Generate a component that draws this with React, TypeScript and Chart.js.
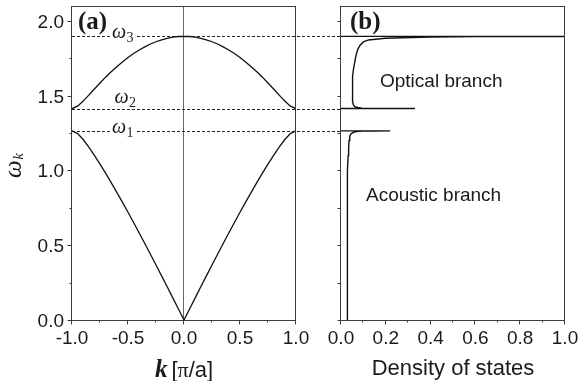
import React, { useEffect, useRef } from "react";
import { Chart, registerables } from "chart.js";

Chart.register(...registerables);

// Wave vector k in units of pi/a over half of the zone; both branches are even in k
const waveVector = [0, 0.05, 0.1, 0.15, 0.2, 0.25, 0.3, 0.35, 0.4, 0.45, 0.5, 0.55, 0.6, 0.65, 0.7, 0.75, 0.8, 0.85, 0.9, 0.95, 1];
const acousticOmega = [0, 0.074, 0.148, 0.222, 0.295, 0.368, 0.44, 0.512, 0.582, 0.652, 0.721, 0.788, 0.854, 0.919, 0.982, 1.043, 1.101, 1.156, 1.207, 1.247, 1.265];
const opticalOmega = [1.897, 1.896, 1.892, 1.884, 1.874, 1.861, 1.846, 1.827, 1.806, 1.782, 1.755, 1.726, 1.694, 1.66, 1.624, 1.585, 1.545, 1.504, 1.464, 1.43, 1.414];

// Band-edge frequencies omega_1, omega_2, omega_3
const bandEdgeOmega = [1.265, 1.414, 1.897];
const bandEdgeNames = ["1", "2", "3"];

// Density of states (horizontal) against frequency (vertical)
const acousticDosOmega = [0, 0.2, 0.4, 0.6, 0.8, 1.0, 1.1, 1.15, 1.2, 1.23, 1.245, 1.255, 1.26, 1.263, 1.2645, 1.265, 1.265];
const acousticDos = [0.027, 0.027, 0.028, 0.028, 0.029, 0.031, 0.032, 0.034, 0.036, 0.039, 0.045, 0.055, 0.07, 0.095, 0.15, 0.22, 0];
const opticalDosOmega = [1.414, 1.414, 1.415, 1.417, 1.421, 1.427, 1.44, 1.46, 1.5, 1.57, 1.63, 1.68, 1.73, 1.77, 1.81, 1.84, 1.86, 1.873, 1.884, 1.888, 1.892, 1.895, 1.897, 1.897];
const opticalDos = [0, 0.33, 0.15, 0.094, 0.075, 0.061, 0.055, 0.052, 0.051, 0.051, 0.053, 0.056, 0.062, 0.067, 0.075, 0.086, 0.1, 0.123, 0.197, 0.27, 0.4, 0.6, 1.6, 0];

// Axis ticks
const kTicks = [-1, -0.5, 0, 0.5, 1];
const kTickLabels = ["-1.0", "-0.5", "0.0", "0.5", "1.0"];
const kMinorTicks = [-0.75, -0.25, 0.25, 0.75];
const omegaTicks = [0, 0.5, 1, 1.5, 2];
const omegaTickLabels = ["0.0", "0.5", "1.0", "1.5", "2.0"];
const omegaMinorTicks = [0.25, 0.75, 1.25, 1.75];
const dosTicks = [0, 0.2, 0.4, 0.6, 0.8, 1];
const dosTickLabels = ["0.0", "0.2", "0.4", "0.6", "0.8", "1.0"];
const dosMinorTicks = [0.1, 0.3, 0.5, 0.7, 0.9];

const OMEGA_MAX = 2.1;

// Layout (pixels)
const W = 585;
const H = 381;
const PLOT_TOP = 6;
const PLOT_BOTTOM = 320;
const A_LEFT = 72;
const A_RIGHT = 296;
const B_LEFT = 341;
const B_RIGHT = 565;

const SANS = '"Liberation Sans", Arial, Helvetica, sans-serif';
const SERIF = '"Liberation Serif", "Times New Roman", serif';
const FRAME = "#3c3c3c";
const TEXT = "#1a1a1a";

function mirrored(values: number[]) {
  const pts: { x: number; y: number }[] = [];
  for (let i = waveVector.length - 1; i >= 1; i--) pts.push({ x: -waveVector[i], y: values[i] });
  for (let i = 0; i < waveVector.length; i++) pts.push({ x: waveVector[i], y: values[i] });
  return pts;
}

function pairs(xs: number[], ys: number[]) {
  return xs.map((x, i) => ({ x, y: ys[i] }));
}

function drawFrame(ctx: CanvasRenderingContext2D, ca: any) {
  const l = Math.round(ca.left) - 0.5;
  const r = Math.round(ca.right) - 0.5;
  const t = Math.round(ca.top) + 0.5;
  const b = Math.round(ca.bottom) + 0.5;
  ctx.strokeStyle = FRAME;
  ctx.lineWidth = 1;
  ctx.setLineDash([]);
  ctx.strokeRect(l, t, r - l, b - t);
}

function drawXTicks(ctx: CanvasRenderingContext2D, scale: any, bottom: number, major: number[], minor: number[], labels: string[]) {
  ctx.strokeStyle = FRAME;
  ctx.lineWidth = 1;
  const yb = Math.round(bottom) + 0.5;
  ctx.beginPath();
  major.forEach((v) => {
    const px = Math.round(scale.getPixelForValue(v)) - 0.5;
    ctx.moveTo(px, yb);
    ctx.lineTo(px, yb + 4);
  });
  minor.forEach((v) => {
    const px = Math.round(scale.getPixelForValue(v)) - 0.5;
    ctx.moveTo(px, yb);
    ctx.lineTo(px, yb + 2);
  });
  ctx.stroke();
  ctx.fillStyle = TEXT;
  ctx.font = `19px ${SANS}`;
  ctx.textAlign = "center";
  ctx.textBaseline = "alphabetic";
  major.forEach((v, i) => {
    ctx.fillText(labels[i], scale.getPixelForValue(v), bottom + 23.5);
  });
}

function drawYTicks(ctx: CanvasRenderingContext2D, scale: any, left: number, major: number[], minor: number[], majorLen: number, minorLen: number, labels: string[] | null) {
  ctx.strokeStyle = FRAME;
  ctx.lineWidth = 1;
  const xl = Math.round(left) - 0.5;
  ctx.beginPath();
  major.forEach((v) => {
    const py = Math.round(scale.getPixelForValue(v)) + 0.5;
    ctx.moveTo(xl, py);
    ctx.lineTo(xl - majorLen, py);
  });
  minor.forEach((v) => {
    const py = Math.round(scale.getPixelForValue(v)) + 0.5;
    ctx.moveTo(xl, py);
    ctx.lineTo(xl - minorLen, py);
  });
  ctx.stroke();
  if (labels) {
    ctx.fillStyle = TEXT;
    ctx.font = `19px ${SANS}`;
    ctx.textAlign = "right";
    ctx.textBaseline = "alphabetic";
    major.forEach((v, i) => {
      ctx.fillText(labels[i], left - 8, scale.getPixelForValue(v) + 6.8);
    });
  }
}

function drawOmegaLabel(ctx: CanvasRenderingContext2D, x: number, baseline: number, sub: string, knockout: boolean) {
  ctx.font = `italic 20px ${SERIF}`;
  const w = ctx.measureText("\u03c9").width;
  ctx.font = `14px ${SERIF}`;
  const ws = ctx.measureText(sub).width;
  if (knockout) {
    ctx.fillStyle = "#ffffff";
    ctx.fillRect(x - 1.5, baseline - 6, w + ws + 3.5, 8);
  }
  ctx.fillStyle = TEXT;
  ctx.textAlign = "left";
  ctx.textBaseline = "alphabetic";
  ctx.font = `italic 20px ${SERIF}`;
  ctx.fillText("\u03c9", x, baseline);
  ctx.font = `14px ${SERIF}`;
  ctx.fillText(sub, x + w + 0.5, baseline + 4);
}

const dispersionPlugin = {
  id: "dispersionDecor",
  beforeDatasetsDraw(chart: any) {
    const { ctx, chartArea: ca, scales } = chart;
    const x = scales.x;
    const y = scales.y;
    ctx.save();
    // k = 0 line
    const x0 = Math.round(x.getPixelForValue(0)) - 0.5;
    ctx.strokeStyle = "#666666";
    ctx.lineWidth = 1;
    ctx.beginPath();
    ctx.moveTo(x0, ca.top);
    ctx.lineTo(x0, ca.bottom);
    ctx.stroke();
    // band edges run across into the density-of-states panel
    ctx.strokeStyle = "#222222";
    ctx.setLineDash([3, 2]);
    ctx.beginPath();
    bandEdgeOmega.forEach((v) => {
      const py = Math.round(y.getPixelForValue(v)) + 0.5;
      ctx.moveTo(ca.left, py);
      ctx.lineTo(B_LEFT - 1, py);
    });
    ctx.stroke();
    ctx.restore();
  },
  afterDatasetsDraw(chart: any) {
    const { ctx, chartArea: ca, scales } = chart;
    const x = scales.x;
    const y = scales.y;
    ctx.save();
    drawFrame(ctx, ca);
    drawXTicks(ctx, x, ca.bottom, kTicks, kMinorTicks, kTickLabels);
    drawYTicks(ctx, y, ca.left, omegaTicks, omegaMinorTicks, 4, 2, omegaTickLabels);

    // band-edge labels
    const py = bandEdgeOmega.map((v) => y.getPixelForValue(v));
    drawOmegaLabel(ctx, 112, py[0] + 2.5, bandEdgeNames[0], true);
    drawOmegaLabel(ctx, 114.5, py[1] - 6, bandEdgeNames[1], false);
    drawOmegaLabel(ctx, 112, py[2] + 2, bandEdgeNames[2], true);

    // panel tag
    ctx.fillStyle = TEXT;
    ctx.font = `bold 25px ${SERIF}`;
    ctx.textAlign = "left";
    ctx.textBaseline = "alphabetic";
    ctx.fillText("(a)", 78, 28.5);

    // vertical title: omega_k
    ctx.save();
    ctx.translate(21, 178);
    ctx.rotate(-Math.PI / 2);
    ctx.font = `italic 25px ${SERIF}`;
    const wo = ctx.measureText("\u03c9").width;
    ctx.fillText("\u03c9", 0, 0);
    ctx.font = `italic 15px ${SERIF}`;
    ctx.fillText("k", wo + 0.5, 1.5);
    ctx.restore();

    // horizontal title: k [pi/a]
    const parts = [
      { t: "k", f: `bold italic 25px ${SERIF}`, gap: 4 },
      { t: "[", f: `22px ${SANS}`, gap: 0 },
      { t: "\u03c0", f: `22px ${SERIF}`, gap: 0 },
      { t: "/a]", f: `22px ${SANS}`, gap: 0 },
    ];
    let total = 0;
    parts.forEach((p) => {
      ctx.font = p.f;
      total += ctx.measureText(p.t).width + p.gap;
    });
    let cx = (ca.left + ca.right) / 2 - total / 2;
    parts.forEach((p) => {
      ctx.font = p.f;
      ctx.fillText(p.t, cx, 377);
      cx += ctx.measureText(p.t).width + p.gap;
    });
    ctx.restore();
  },
};

const dosPlugin = {
  id: "dosDecor",
  afterDatasetsDraw(chart: any) {
    const { ctx, chartArea: ca, scales } = chart;
    const x = scales.x;
    const y = scales.y;
    ctx.save();
    drawFrame(ctx, ca);
    drawXTicks(ctx, x, ca.bottom, dosTicks, dosMinorTicks, dosTickLabels);
    drawYTicks(ctx, y, ca.left, [...omegaTicks, ...omegaMinorTicks], [], 3, 3, null);

    ctx.fillStyle = TEXT;
    ctx.textAlign = "left";
    ctx.textBaseline = "alphabetic";
    ctx.font = `bold 25px ${SERIF}`;
    ctx.fillText("(b)", 350, 28.5);

    ctx.font = `19px ${SANS}`;
    ctx.fillText("Optical branch", 380, 87);
    ctx.fillText("Acoustic branch", 366, 201);

    ctx.font = `22px ${SANS}`;
    ctx.textAlign = "center";
    ctx.fillText("Density of states", (ca.left + ca.right) / 2, 375);
    ctx.restore();
  },
};

function hiddenScales(xMin: number, xMax: number) {
  return {
    x: { type: "linear" as const, min: xMin, max: xMax, display: false },
    y: { type: "linear" as const, min: 0, max: OMEGA_MAX, display: false },
  };
}

export default function App() {
  const leftRef = useRef<HTMLCanvasElement | null>(null);
  const rightRef = useRef<HTMLCanvasElement | null>(null);

  useEffect(() => {
    if (!leftRef.current || !rightRef.current) return;
    const lineStyle = { borderColor: "#111111", pointRadius: 0, tension: 0, fill: false };

    const dispersion = new Chart(leftRef.current, {
      type: "line",
      data: {
        datasets: [
          { label: "acoustic", data: mirrored(acousticOmega), borderWidth: 1.3, ...lineStyle },
          { label: "optical", data: mirrored(opticalOmega), borderWidth: 1.3, ...lineStyle },
        ],
      },
      options: {
        responsive: false,
        animation: false,
        events: [],
        layout: { padding: { left: A_LEFT, right: W - A_RIGHT, top: PLOT_TOP, bottom: H - PLOT_BOTTOM } },
        scales: hiddenScales(-1, 1),
        plugins: { legend: { display: false }, tooltip: { enabled: false } },
      },
      plugins: [dispersionPlugin],
    });

    const dos = new Chart(rightRef.current, {
      type: "line",
      data: {
        datasets: [
          { label: "acoustic DOS", data: pairs(acousticDos, acousticDosOmega), borderWidth: 1.4, ...lineStyle },
          { label: "optical DOS", data: pairs(opticalDos, opticalDosOmega), borderWidth: 1.4, ...lineStyle },
        ],
      },
      options: {
        responsive: false,
        animation: false,
        events: [],
        layout: { padding: { left: B_LEFT, right: W - B_RIGHT, top: PLOT_TOP, bottom: H - PLOT_BOTTOM } },
        scales: hiddenScales(0, 1),
        plugins: { legend: { display: false }, tooltip: { enabled: false } },
      },
      plugins: [dosPlugin],
    });

    return () => {
      dispersion.destroy();
      dos.destroy();
    };
  }, []);

  const canvasStyle: React.CSSProperties = { position: "absolute", left: 0, top: 0, display: "block" };
  return (
    <div style={{ position: "absolute", left: 0, top: 0, width: W, height: H, background: "#ffffff" }}>
      <canvas ref={leftRef} width={W} height={H} style={canvasStyle} />
      <canvas ref={rightRef} width={W} height={H} style={canvasStyle} />
    </div>
  );
}
